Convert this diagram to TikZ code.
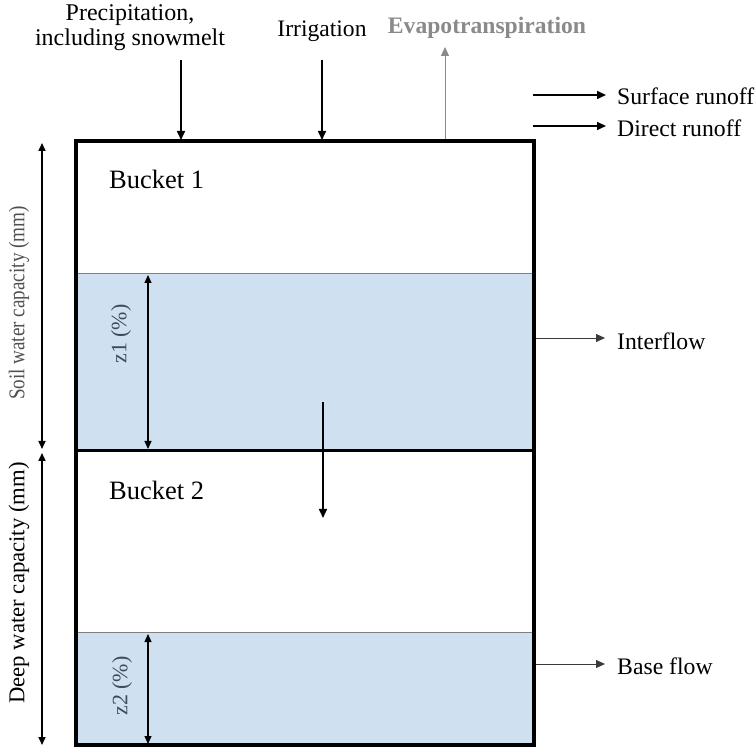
\documentclass[tikz,border=0pt]{standalone}
\usepackage{fontspec}
\setmainfont{Liberation Serif}
\newfontfamily\condserif[FakeStretch=0.85]{Liberation Serif}
\usetikzlibrary{arrows.meta}
\definecolor{waterblue}{HTML}{CFE0F1}
\definecolor{evgray}{HTML}{8A8A8A}
\definecolor{labgray}{HTML}{3A3A3A}
\definecolor{soilgray}{HTML}{505050}
\definecolor{zcol}{HTML}{3C4A5A}
\tikzset{
  lbl/.style={inner sep=0pt, font=\fontsize{23.6}{25}\selectfont},
  bucketlbl/.style={inner sep=0pt, anchor=west, font=\fontsize{26.5}{28}\selectfont},
  sidelbl/.style={inner sep=0pt, anchor=west, font=\fontsize{23.7}{25}\selectfont},
  vlbl/.style={inner sep=0pt, rotate=90, font=\fontsize{22}{25}\selectfont},
  flow/.style={line width=1.6pt, -{Triangle[length=9pt,width=8pt]}},
  thinflow/.style={line width=0.9pt, -{Triangle[length=9pt,width=8pt]}},
  dim/.style={line width=1.6pt, {Triangle[length=8pt,width=7pt]}-{Triangle[length=8pt,width=7pt]}},
}
\begin{document}
\begin{tikzpicture}[x=1pt,y=-1pt]
\useasboundingbox (0,0) rectangle (756,751);
% water bands
\fill[waterblue] (76,273) rectangle (534,451);
\fill[waterblue] (76,632) rectangle (534,745);
\draw[gray, line width=0.8pt] (76,273) -- (534,273);
\draw[gray, line width=0.8pt] (76,632) -- (534,632);
% buckets
\draw[line width=4pt] (76,141) rectangle (534,745);
\draw[line width=3pt] (76,451) -- (534,451);

% coordinates
\coordinate (pT) at (181,60);  \coordinate (pB) at (181,140);
\coordinate (iT) at (322,60);  \coordinate (iB) at (322,140);
\coordinate (eB) at (445,139); \coordinate (eT) at (445,47);
\coordinate (s1) at (533,95);  \coordinate (s2) at (606,95);
\coordinate (d1) at (533,126); \coordinate (d2) at (606,126);
\coordinate (if1) at (536,338); \coordinate (if2) at (605,338);
\coordinate (bf1) at (536,664); \coordinate (bf2) at (605,664);
\coordinate (mT) at (323,402); \coordinate (mB) at (323,518);
\coordinate (sw1) at (42,143); \coordinate (sw2) at (42,449);
\coordinate (dw1) at (42,453); \coordinate (dw2) at (42,745);
\coordinate (z1a) at (148,275); \coordinate (z1b) at (148,449);
\coordinate (z2a) at (148,634); \coordinate (z2b) at (148,744);

% texts
\node[lbl, align=center, font=\fontsize{24}{25}\selectfont] (prec) at (130,28) {Precipitation,\\including snowmelt};
\node[lbl] (irr) at (322,31) {Irrigation};
\node[lbl, text=evgray, font=\fontsize{23.6}{25}\selectfont\bfseries] (evap) at (487,28) {Evapotranspiration};
\node[sidelbl] (sr) at (617,96) {Surface runoff};
\node[sidelbl] (dr) at (617,128) {Direct runoff};
\node[sidelbl] (ifl) at (617,341) {Interflow};
\node[sidelbl] (bfl) at (617,666) {Base flow};
\node[bucketlbl] (b1) at (109,179) {Bucket 1};
\node[bucketlbl] (b2) at (109,490) {Bucket 2};
\node[vlbl, text=soilgray, font=\condserif\fontsize{22.5}{25}\selectfont] (swc) at (19,303) {Soil water capacity (mm)};
\node[vlbl, font=\fontsize{22.7}{25}\selectfont] (dwc) at (19,583) {Deep water capacity (mm)};
\node[vlbl, text=zcol] (z1) at (121,334) {z1 (\%)};
\node[vlbl, text=zcol] (z2) at (122,686) {z2 (\%)};

% arrows
\draw[flow] (pT) -- (pB);
\draw[flow] (iT) -- (iB);
\draw[thinflow, evgray] (eB) -- (eT);
\draw[flow] (s1) -- (s2);
\draw[flow] (d1) -- (d2);
\draw[thinflow, labgray] (if1) -- (if2);
\draw[thinflow, labgray] (bf1) -- (bf2);
\draw[flow] (mT) -- (mB);
\draw[dim] (sw1) -- (sw2);
\draw[dim] (dw1) -- (dw2);
\draw[dim, line width=1.2pt] (z1a) -- (z1b);
\draw[dim, line width=1.2pt] (z2a) -- (z2b);
\end{tikzpicture}
\end{document}
